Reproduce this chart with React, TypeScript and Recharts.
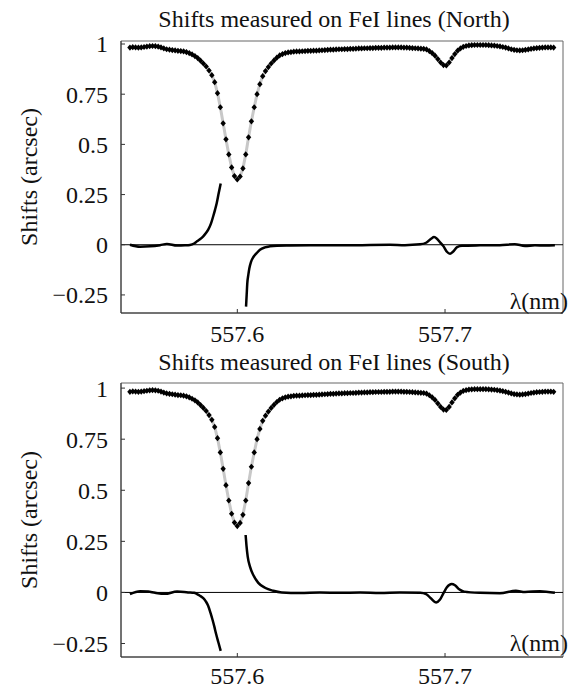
import React from "react";
import { ComposedChart, Line, XAxis, YAxis, ReferenceLine, ReferenceArea } from "recharts";

// wavelength sampling of the observed profile (nm)
const LAMBDA_START = 557.5483;
const LAMBDA_STEP = 0.00136;

// normalised intensity
const intensity = [
  0.982, 0.984, 0.983, 0.982, 0.983, 0.985, 0.987, 0.989, 0.99, 0.989,
  0.987, 0.983, 0.978, 0.974, 0.972, 0.97, 0.968, 0.966, 0.965, 0.963,
  0.96, 0.955, 0.948, 0.94, 0.93, 0.917, 0.903, 0.888, 0.868, 0.845,
  0.81, 0.755, 0.685, 0.605, 0.525, 0.45, 0.385, 0.342, 0.325, 0.34,
  0.38, 0.45, 0.535, 0.615, 0.685, 0.75, 0.8, 0.84, 0.865, 0.885,
  0.903, 0.918, 0.932, 0.943, 0.95, 0.955, 0.958, 0.96, 0.962, 0.963,
  0.963, 0.964, 0.965, 0.966, 0.966, 0.967, 0.967, 0.968, 0.969, 0.97,
  0.971, 0.972, 0.972, 0.973, 0.974, 0.974, 0.975, 0.975, 0.976, 0.976,
  0.977, 0.978, 0.978, 0.979, 0.979, 0.98, 0.98, 0.981, 0.981, 0.981,
  0.982, 0.982, 0.982, 0.983, 0.983, 0.983, 0.983, 0.982, 0.982, 0.981,
  0.98, 0.979, 0.978, 0.977, 0.976, 0.973, 0.965, 0.955, 0.942, 0.925,
  0.908, 0.895, 0.893, 0.908, 0.93, 0.95, 0.967, 0.978, 0.986, 0.99,
  0.993, 0.994, 0.995, 0.995, 0.995, 0.995, 0.995, 0.994, 0.993, 0.992,
  0.99, 0.988, 0.985, 0.982, 0.978, 0.974, 0.971, 0.969, 0.968, 0.969,
  0.971, 0.973, 0.976, 0.978, 0.98, 0.981, 0.982, 0.983, 0.983, 0.983,
  0.982,
];

// North: blue wing and red wing of the shift curve
const northBlueLam = [557.5483, 557.5532, 557.558, 557.5628, 557.5661, 557.571, 557.5748, 557.5772, 557.5792, 557.5806, 557.582, 557.5836, 557.5849, 557.586, 557.5873, 557.5884, 557.5893, 557.5901, 557.591, 557.592];
const northBlueShift = [0.0, -0.01, -0.008, -0.002, 0.004, -0.004, -0.003, -0.001, 0.006, 0.017, 0.027, 0.042, 0.058, 0.075, 0.105, 0.142, 0.175, 0.208, 0.255, 0.305];
const northRedLam = [557.6042, 557.6045, 557.6048, 557.6053, 557.6058, 557.6066, 557.6077, 557.6092, 557.6109, 557.6133, 557.6157, 557.6191, 557.6254, 557.635, 557.6446, 557.6543, 557.6639, 557.6735, 557.6807, 557.688, 557.6909, 557.6933, 557.6947, 557.6961, 557.6976, 557.6993, 557.7009, 557.7024, 557.7038, 557.7058, 557.7082, 557.7168, 557.7264, 557.7336, 557.7385, 557.7433, 557.7481, 557.7529];
const northRedShift = [-0.308, -0.25, -0.192, -0.15, -0.117, -0.085, -0.062, -0.043, -0.025, -0.013, -0.008, -0.005, -0.004, -0.003, -0.002, -0.003, -0.001, 0.0, -0.002, 0.002, 0.01, 0.03, 0.038, 0.03, 0.012, -0.008, -0.035, -0.045, -0.035, -0.012, -0.005, -0.003, -0.002, 0.003, -0.006, -0.003, -0.004, -0.003];

// South
const southBlueLam = [557.5483, 557.5532, 557.557, 557.5604, 557.5652, 557.571, 557.5763, 557.5792, 557.5806, 557.582, 557.5836, 557.5849, 557.586, 557.5871, 557.5881, 557.589, 557.5897, 557.5909, 557.592];
const southBlueShift = [-0.008, 0.006, 0.004, -0.002, -0.007, 0.004, 0.0, -0.002, -0.008, -0.016, -0.028, -0.045, -0.066, -0.1, -0.135, -0.17, -0.2, -0.245, -0.286];
const southRedLam = [557.604, 557.6044, 557.605, 557.6061, 557.6077, 557.6101, 557.6133, 557.6173, 557.6214, 557.6302, 557.6398, 557.6494, 557.6591, 557.6687, 557.6783, 557.688, 557.6909, 557.6933, 557.6957, 557.6976, 557.6992, 557.7009, 557.7032, 557.7048, 557.7068, 557.7092, 557.7168, 557.7264, 557.7341, 557.7385, 557.7457, 557.7529];
const southRedShift = [0.281, 0.23, 0.175, 0.126, 0.085, 0.047, 0.023, 0.008, 0.0, -0.003, 0.0, -0.002, 0.0, -0.003, 0.0, -0.002, -0.008, -0.03, -0.049, -0.035, -0.005, 0.025, 0.041, 0.035, 0.015, 0.004, -0.002, -0.004, 0.008, 0.002, 0.006, -0.002];

const xTicks = [557.6, 557.7];
const yTicks = [-0.25, 0, 0.25, 0.5, 0.75, 1];
const X_DOMAIN: [number, number] = [557.544, 557.7568];

const FONT = "'Liberation Serif', 'Times New Roman', Times, serif";

const spectrum = intensity.map((v, i) => ({ lam: +(LAMBDA_START + i * LAMBDA_STEP).toFixed(5), v }));
const pairs = (lam: number[], s: number[]) => lam.map((l, i) => ({ lam: l, s: s[i] }));

const fmtY = (v: number) => (v < 0 ? "\u2212" + String(-v) : String(v));

const XTick = (props: any) => {
  const { x, y, payload, off } = props;
  return (
    <g>
      <line x1={x} x2={x} y1={y} y2={y - 4} stroke="#333" />
      <text x={x} y={y + off} textAnchor="middle" fontSize={24} fontFamily={FONT} fill="#111">
        {payload.value}
      </text>
    </g>
  );
};

const YTick = (props: any) => {
  const { x, y, payload } = props;
  return (
    <g>
      <line x1={x} x2={x + 4} y1={y} y2={y} stroke="#333" />
      <text x={x - 13} y={y} dy="0.35em" textAnchor="end" fontSize={24} fontFamily={FONT} fill="#111">
        {fmtY(payload.value)}
      </text>
    </g>
  );
};

const Diamond = (props: any) => {
  const { cx, cy, index } = props;
  if (cx == null || cy == null) return <g key={`e${index}`} />;
  return (
    <path
      key={`d${index}`}
      d={`M${cx},${cy - 3.1}L${cx + 2.7},${cy}L${cx},${cy + 3.1}L${cx - 2.7},${cy}Z`}
      fill="#000"
    />
  );
};

function Panel({ blue, red, yDomain, height, marginTop, marginBottom, labelOff }: any) {
  return (
    <ComposedChart
      width={584}
      height={height}
      margin={{ top: marginTop, right: 21, bottom: marginBottom, left: 61 }}
    >
      <XAxis
        type="number"
        dataKey="lam"
        domain={X_DOMAIN}
        ticks={xTicks}
        allowDataOverflow
        height={30}
        tickSize={0}
        tickMargin={0}
        tick={<XTick off={labelOff} />}
        axisLine={{ stroke: "#333" }}
      />
      <YAxis
        type="number"
        domain={yDomain}
        ticks={yTicks}
        allowDataOverflow
        width={60}
        tickSize={0}
        tickMargin={0}
        tick={<YTick />}
        axisLine={{ stroke: "#333" }}
      />
      <ReferenceArea
        x1={X_DOMAIN[0]}
        x2={X_DOMAIN[1]}
        y1={yDomain[0]}
        y2={yDomain[1]}
        fill="none"
        stroke="#666"
        strokeWidth={1}
      />
      <ReferenceLine y={0} stroke="#000" strokeWidth={1} />
      <Line
        data={spectrum}
        dataKey="v"
        type="linear"
        stroke="#c8c8c8"
        strokeWidth={3}
        dot={Diamond}
        isAnimationActive={false}
      />
      <Line data={blue} dataKey="s" type="monotone" stroke="#000" strokeWidth={2.5} dot={false} isAnimationActive={false} />
      <Line data={red} dataKey="s" type="monotone" stroke="#000" strokeWidth={2.5} dot={false} isAnimationActive={false} />
    </ComposedChart>
  );
}

export default function App() {
  const textStyle = { fontFamily: FONT, fontSize: 24, fill: "#111" };
  return (
    <div style={{ position: "absolute", left: 0, top: 0, width: 584, height: 690, background: "#fff", overflow: "hidden" }}>
      <div style={{ position: "absolute", left: 0, top: 0 }}>
        <Panel
          blue={pairs(northBlueLam, northBlueShift)}
          red={pairs(northRedLam, northRedShift)}
          yDomain={[-0.34, 1.015]}
          height={350}
          marginTop={41}
          marginBottom={7}
          labelOff={29}
        />
      </div>
      <div style={{ position: "absolute", left: 0, top: 345 }}>
        <Panel
          blue={pairs(southBlueLam, southBlueShift)}
          red={pairs(southRedLam, southRedShift)}
          yDomain={[-0.316, 1.025]}
          height={345}
          marginTop={38}
          marginBottom={3}
          labelOff={27}
        />
      </div>
      <svg width={584} height={690} style={{ position: "absolute", left: 0, top: 0, pointerEvents: "none" }}>
        <text x={334} y={27} textAnchor="middle" style={textStyle}>Shifts measured on FeI lines (North)</text>
        <text x={334} y={370} textAnchor="middle" style={textStyle}>Shifts measured on FeI lines (South)</text>
        <text x={29} y={177} dy="0.35em" textAnchor="middle" transform="rotate(-90 29 177)" style={textStyle}>Shifts (arcsec)</text>
        <text x={29} y={520} dy="0.35em" textAnchor="middle" transform="rotate(-90 29 520)" style={textStyle}>Shifts (arcsec)</text>
        <text x={568} y={309} textAnchor="end" style={textStyle}>λ(nm)</text>
        <text x={568} y={651} textAnchor="end" style={textStyle}>λ(nm)</text>
      </svg>
    </div>
  );
}
